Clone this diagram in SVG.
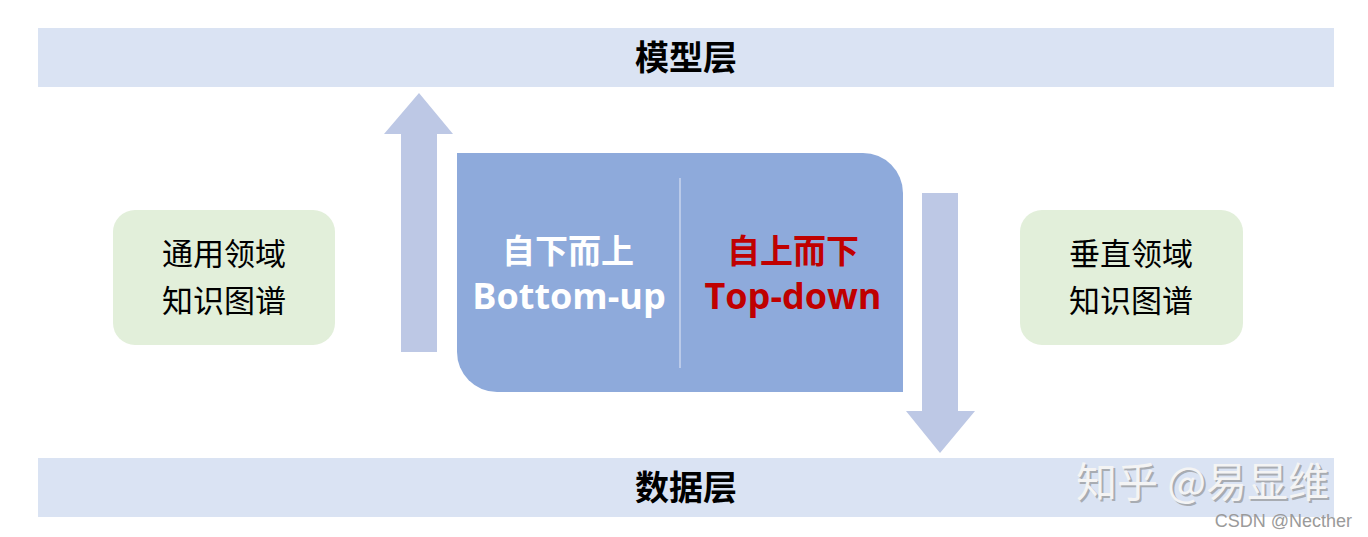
<svg xmlns="http://www.w3.org/2000/svg" width="1368" height="537" viewBox="0 0 1368 537">
<style>
.bar{fill:#dae3f3}
.layer{font-family:"Noto Sans CJK SC",sans-serif;font-weight:bold;font-size:34px;fill:#000;text-anchor:middle}
.kg{fill:#e2efda}
.kgt{font-family:"Noto Sans CJK SC",sans-serif;font-size:31px;fill:#000;text-anchor:middle}
.arrow{fill:#bdc8e5}
.cn{font-family:"Noto Sans CJK SC",sans-serif;font-weight:bold;font-size:33px;text-anchor:middle}
.en{font-family:"Open Sans","Noto Sans",sans-serif;font-weight:bold;font-size:36px;text-anchor:middle}
</style>
<rect width="1368" height="537" fill="#fff"/>
<g id="model-layer">
<rect class="bar" x="38" y="28" width="1296" height="59"/>
<text class="layer" x="686" y="70">模型层</text>
</g>
<g id="data-layer">
<rect class="bar" x="38" y="458" width="1296" height="59"/>
<text class="layer" x="686" y="500">数据层</text>
</g>
<g id="general-kg">
<rect class="kg" x="113" y="210" width="222" height="135" rx="22"/>
<text class="kgt" x="224" y="265">通用领域</text>
<text class="kgt" x="224" y="312">知识图谱</text>
</g>
<g id="vertical-kg">
<rect class="kg" x="1020" y="210" width="223" height="135" rx="22"/>
<text class="kgt" x="1131" y="265">垂直领域</text>
<text class="kgt" x="1131" y="312">知识图谱</text>
</g>
<g id="center">
<path d="M457 153 H863 A40 40 0 0 1 903 193 V392 H497 A40 40 0 0 1 457 352 Z" fill="#8eaadb"/>
<line x1="680" y1="178" x2="680" y2="368" stroke="#c9d5ee" stroke-width="1.5"/>
<text class="cn" x="568" y="263" fill="#fff">自下而上</text>
<text class="en" x="569" y="309" fill="#fff">Bottom-up</text>
<text class="cn" x="793" y="263" fill="#c00000">自上而下</text>
<text class="en" x="793" y="309" fill="#c00000">Top-down</text>
</g>
<g id="connectors">
<polygon class="arrow" points="401,352 437,352 437,134 453,134 419,93 384,134 401,134"/>
<polygon class="arrow" points="922,193 958,193 958,411 975,411 940,453 906,411 922,411"/>
</g>
<g id="watermark">
<text x="1076" y="497" font-family="Noto Sans CJK SC,sans-serif" font-size="41" fill="#888" opacity="0.6" transform="translate(2,2)">知乎 @易显维</text>
<text x="1076" y="497" font-family="Noto Sans CJK SC,sans-serif" font-size="41" fill="#f4f4f4">知乎 @易显维</text>
<text x="1352" y="527" font-family="Liberation Sans,sans-serif" font-size="18" fill="#9a9a9a" text-anchor="end">CSDN @Necther</text>
</g>
</svg>
